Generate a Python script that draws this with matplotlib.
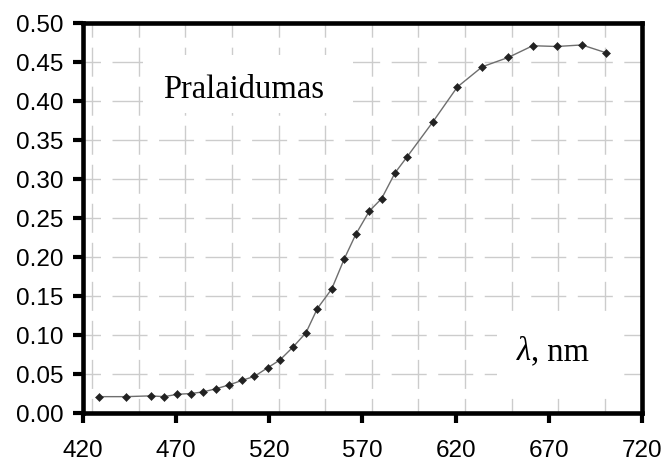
"""
plot.py - Pralaidumo spektras
"""

import matplotlib
matplotlib.use('Agg')
import matplotlib.pyplot as plt
from matplotlib.ticker import MultipleLocator, FormatStrFormatter
from matplotlib.patches import Rectangle

# duomenys
wavelength = [428.7, 442.9, 456.3, 463.6, 470.6, 477.8, 484.3, 491.2, 498.4, 505.5,
              512.0, 519.1, 525.7, 532.9, 539.7, 545.8, 553.5, 560.3, 566.4, 573.7,
              580.3, 587.5, 593.8, 607.7, 620.9, 634.3, 648.3, 661.4, 674.3, 687.8,
              700.7]
transmittance = [0.021, 0.021, 0.022, 0.021, 0.024, 0.025, 0.027, 0.031, 0.036, 0.042,
                 0.047, 0.058, 0.068, 0.085, 0.103, 0.134, 0.159, 0.198, 0.229, 0.259,
                 0.275, 0.308, 0.328, 0.373, 0.418, 0.444, 0.456, 0.471, 0.470, 0.472,
                 0.462]

x_ticks = [420, 470, 520, 570, 620, 670, 720]
title_text = 'Pralaidumas'

plt.rcParams['font.family'] = ['Liberation Sans', 'DejaVu Sans']

fig = plt.figure(figsize=(6.67, 4.62), dpi=100)
ax = fig.add_axes([0.1244, 0.106, 0.838, 0.844])

ax.plot(wavelength, transmittance, color='#6e6e6e', linewidth=1.0, zorder=3)
ax.plot(wavelength, transmittance, linestyle='none', marker='D', markersize=3.8,
        color='#222222', markeredgewidth=0.4, zorder=4)

ax.set_xlim(420, 720)
ax.set_ylim(0, 0.5)
ax.set_xticks(x_ticks)
ax.xaxis.set_minor_locator(MultipleLocator(25))
ax.xaxis.remove_overlapping_locs = False
ax.yaxis.set_major_locator(MultipleLocator(0.05))
ax.yaxis.set_major_formatter(FormatStrFormatter('%.2f'))

# tinklelis (ilgi bruksniai kaip Excel)
ax.set_axisbelow(True)
ax.grid(True, which='minor', axis='x', color='#cccccc', linewidth=1.0,
        linestyle=(10.4, (20.9, 7.2)))
ax.grid(False, which='major', axis='x')
ax.grid(True, which='major', axis='y', color='#cccccc', linewidth=1.0,
        linestyle=(12.6, (25.2, 8.3)))

for s in ax.spines.values():
    s.set_linewidth(3.3)
    s.set_color('black')

ax.tick_params(axis='both', which='major', direction='out', length=7, width=3,
               labelsize=17.5, color='black')
ax.tick_params(axis='x', pad=12.5)
ax.tick_params(axis='y', pad=7)
ax.tick_params(axis='x', which='minor', length=0)

# baltos teksto dezutes
ax.add_patch(Rectangle((0.107, 0.769), 0.376, 0.149, transform=ax.transAxes,
                       facecolor='white', edgecolor='none', zorder=1.5))
ax.add_patch(Rectangle((0.741, 0.046), 0.214, 0.200, transform=ax.transAxes,
                       facecolor='white', edgecolor='none', zorder=1.5))

ax.text(0.143, 0.808, title_text, transform=ax.transAxes, fontsize=23.5,
        family='Liberation Serif', va='baseline', ha='left', zorder=5)
lam = ax.text(0.776, 0.136, 'λ', transform=ax.transAxes, fontsize=23.5,
              family='Liberation Serif', style='italic', va='baseline', ha='left', zorder=5)
ax.annotate(', nm', xy=(1, 0), xycoords=lam, fontsize=23.5,
            family='Liberation Serif', va='bottom', ha='left', zorder=5)

fig.savefig('out.png', dpi=100)
plt.close()
